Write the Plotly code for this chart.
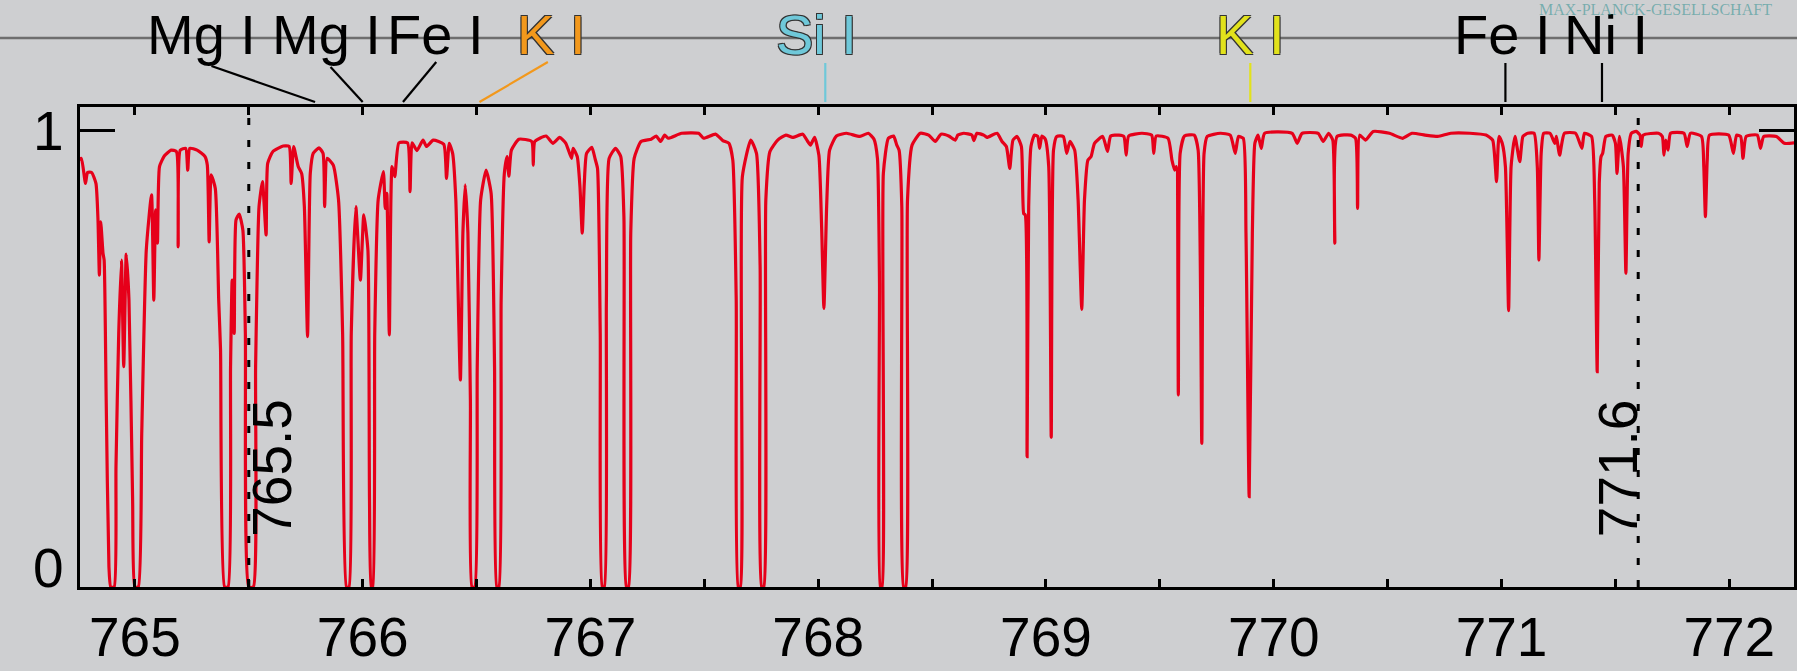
import plotly.graph_objects as go

# Normalised solar spectrum around the K I / O2 A-band region
wavelength_nm = [
    764.732, 764.742, 764.753, 764.765, 764.783, 764.792, 764.810, 764.829, 764.838, 764.844,
    764.850, 764.860, 764.865, 764.874, 764.886, 764.894, 764.909, 764.917, 764.929, 764.941,
    764.951, 764.962, 764.974, 764.990, 765.000, 765.015, 765.030, 765.050, 765.073, 765.083,
    765.091, 765.099, 765.108, 765.129, 765.159, 765.182, 765.190, 765.199, 765.223, 765.232,
    765.241, 765.273, 765.308, 765.318, 765.326, 765.335, 765.353, 765.368, 765.376, 765.394,
    765.409, 765.420, 765.427, 765.436, 765.444, 765.458, 765.474, 765.485, 765.500, 765.520,
    765.530, 765.545, 765.560, 765.576, 765.583, 765.606, 765.651, 765.677, 765.686, 765.697,
    765.717, 765.732, 765.744, 765.758, 765.770, 765.783, 765.808, 765.826, 765.833, 765.844,
    765.871, 765.894, 765.912, 765.929, 765.940, 765.950, 765.970, 765.990, 766.005, 766.023,
    766.030, 766.038, 766.044, 766.053, 766.068, 766.091, 766.099, 766.106, 766.117, 766.129,
    766.141, 766.159, 766.197, 766.208, 766.217, 766.238, 766.265, 766.280, 766.310, 766.356,
    766.368, 766.380, 766.395, 766.409, 766.429, 766.440, 766.450, 766.462, 766.473, 766.480,
    766.492, 766.503, 766.518, 766.542, 766.564, 766.579, 766.589, 766.598, 766.608, 766.622,
    766.634, 766.642, 766.653, 766.686, 766.742, 766.749, 766.756, 766.805, 766.835, 766.865,
    766.892, 766.917, 766.924, 766.942, 766.954, 766.964, 766.973, 766.983, 767.006, 767.021,
    767.031, 767.043, 767.052, 767.061, 767.070, 767.082, 767.110, 767.133, 767.147, 767.158,
    767.167, 767.177, 767.192, 767.222, 767.267, 767.289, 767.308, 767.326, 767.341, 767.400,
    767.475, 767.497, 767.549, 767.581, 767.608, 767.625, 767.640, 767.649, 767.658, 767.667,
    767.704, 767.729, 767.745, 767.752, 767.761, 767.770, 767.788, 767.822, 767.858, 767.888,
    767.932, 767.954, 767.966, 767.984, 768.003, 768.015, 768.025, 768.037, 768.050, 768.080,
    768.124, 768.183, 768.220, 768.245, 768.260, 768.269, 768.273, 768.280, 768.286, 768.308,
    768.331, 768.345, 768.355, 768.367, 768.375, 768.384, 768.392, 768.412, 768.448, 768.485,
    768.514, 768.539, 768.573, 768.602, 768.613, 768.639, 768.675, 768.683, 768.697, 768.727,
    768.741, 768.785, 768.807, 768.826, 768.841, 768.855, 768.873, 768.892, 768.902, 768.909,
    768.917, 768.924, 768.934, 768.949, 768.964, 768.972, 768.982, 768.997, 769.012, 769.023,
    769.033, 769.047, 769.076, 769.091, 769.105, 769.126, 769.141, 769.157, 769.169, 769.184,
    769.198, 769.213, 769.249, 769.270, 769.284, 769.320, 769.342, 769.352, 769.363, 769.421,
    769.464, 769.473, 769.484, 769.536, 769.553, 769.565, 769.572, 769.581, 769.589, 769.608,
    769.651, 769.668, 769.684, 769.694, 769.708, 769.766, 769.809, 769.831, 769.845, 769.866,
    769.878, 769.892, 769.906, 769.917, 769.931, 769.945, 769.960, 770.081, 770.103, 770.124,
    770.195, 770.217, 770.241, 770.259, 770.268, 770.278, 770.338, 770.359, 770.368, 770.377,
    770.403, 770.437, 770.508, 770.565, 770.607, 770.664, 770.720, 770.777, 770.861, 770.932,
    770.961, 770.978, 770.989, 771.003, 771.017, 771.031, 771.042, 771.059, 771.080, 771.094,
    771.115, 771.143, 771.157, 771.164, 771.174, 771.185, 771.213, 771.234, 771.241, 771.255,
    771.276, 771.325, 771.353, 771.364, 771.395, 771.409, 771.420, 771.429, 771.437, 771.444,
    771.458, 771.486, 771.500, 771.507, 771.518, 771.535, 771.546, 771.556, 771.570, 771.591,
    771.608, 771.613, 771.622, 771.689, 771.706, 771.713, 771.721, 771.731, 771.742, 771.801,
    771.815, 771.829, 771.878, 771.888, 771.895, 771.903, 771.913, 771.997, 772.018, 772.032,
    772.050, 772.060, 772.074, 772.123, 772.137, 772.151, 772.207, 772.242, 772.300,
]

intensity = [
    0.940, 0.904, 0.936, 0.940, 0.885, 0.909, 0.909, 0.885, 0.805, 0.684,
    0.801, 0.732, 0.717, 0.410, 0.045, 0.000, 0.000, 0.264, 0.556, 0.717,
    0.483, 0.730, 0.629, 0.191, 0.000, 0.000, 0.336, 0.739, 0.860, 0.629,
    0.827, 0.754, 0.922, 0.945, 0.958, 0.955, 0.746, 0.958, 0.962, 0.914,
    0.962, 0.958, 0.944, 0.925, 0.757, 0.904, 0.874, 0.629, 0.520, 0.000,
    0.000, 0.483, 0.673, 0.556, 0.805, 0.818, 0.783, 0.556, 0.000, 0.000,
    0.483, 0.834, 0.889, 0.772, 0.929, 0.955, 0.967, 0.966, 0.885, 0.966,
    0.922, 0.907, 0.834, 0.549, 0.907, 0.951, 0.963, 0.951, 0.834, 0.940,
    0.925, 0.849, 0.556, 0.000, 0.000, 0.556, 0.834, 0.673, 0.816, 0.739,
    0.191, 0.000, 0.000, 0.556, 0.849, 0.911, 0.830, 0.863, 0.553, 0.922,
    0.900, 0.974, 0.974, 0.867, 0.974, 0.957, 0.980, 0.966, 0.980, 0.971,
    0.896, 0.973, 0.951, 0.849, 0.454, 0.776, 0.882, 0.776, 0.410, 0.000,
    0.000, 0.483, 0.849, 0.914, 0.863, 0.483, 0.000, 0.000, 0.629, 0.907,
    0.944, 0.901, 0.958, 0.982, 0.977, 0.925, 0.977, 0.989, 0.973, 0.986,
    0.973, 0.940, 0.962, 0.944, 0.878, 0.776, 0.885, 0.951, 0.964, 0.938,
    0.918, 0.556, 0.000, 0.000, 0.629, 0.940, 0.962, 0.944, 0.812, 0.000,
    0.000, 0.776, 0.940, 0.977, 0.982, 0.989, 0.977, 0.991, 0.984, 0.995,
    0.995, 0.984, 0.993, 0.979, 0.973, 0.936, 0.629, 0.000, 0.000, 0.900,
    0.980, 0.951, 0.702, 0.000, 0.000, 0.849, 0.955, 0.980, 0.991, 0.986,
    0.993, 0.977, 0.969, 0.986, 0.947, 0.790, 0.611, 0.834, 0.958, 0.989,
    0.995, 0.988, 0.995, 0.982, 0.940, 0.666, 0.000, 0.000, 0.907, 0.984,
    0.989, 0.969, 0.958, 0.834, 0.000, 0.000, 0.849, 0.969, 0.995, 0.991,
    0.977, 0.993, 0.989, 0.980, 0.991, 0.995, 0.991, 0.979, 0.995, 0.991,
    0.986, 0.995, 0.977, 0.966, 0.918, 0.980, 0.988, 0.966, 0.819, 0.816,
    0.286, 0.834, 0.966, 0.991, 0.988, 0.962, 0.989, 0.982, 0.922, 0.328,
    0.958, 0.988, 0.988, 0.951, 0.977, 0.958, 0.849, 0.609, 0.849, 0.936,
    0.944, 0.973, 0.988, 0.955, 0.989, 0.991, 0.988, 0.947, 0.989, 0.995,
    0.991, 0.951, 0.989, 0.984, 0.936, 0.914, 0.922, 0.421, 0.951, 0.989,
    0.991, 0.958, 0.315, 0.951, 0.988, 0.995, 0.991, 0.951, 0.988, 0.984,
    0.776, 0.198, 0.776, 0.973, 0.991, 0.962, 0.995, 0.995, 0.973, 0.995,
    0.995, 0.977, 0.995, 0.980, 0.754, 0.988, 0.991, 0.984, 0.830, 0.991,
    0.980, 0.999, 0.995, 0.984, 0.995, 0.991, 0.988, 0.995, 0.995, 0.991,
    0.980, 0.889, 0.988, 0.973, 0.922, 0.606, 0.922, 0.988, 0.933, 0.988,
    0.995, 0.995, 0.922, 0.717, 0.951, 0.995, 0.995, 0.973, 0.988, 0.947,
    0.995, 0.995, 0.962, 0.995, 0.988, 0.849, 0.472, 0.885, 0.944, 0.951,
    0.988, 0.991, 0.973, 0.907, 0.988, 0.922, 0.688, 0.951, 0.995, 0.999,
    0.991, 0.966, 0.991, 0.995, 0.988, 0.947, 0.980, 0.958, 0.995, 0.995,
    0.966, 0.995, 0.988, 0.922, 0.812, 0.936, 0.991, 0.991, 0.951, 0.991,
    0.988, 0.940, 0.988, 0.991, 0.962, 0.988, 0.988, 0.973, 0.975,
]

# Line identifications along the top edge
line_names = ["Mg I", "Mg I", "Fe I", "K I", "Si I", "K I", "Fe I", "Ni I"]
line_wavelength_nm = [765.791, 766.000, 766.177, 766.513, 768.031, 769.897, 771.017, 771.441]
name_wavelength_nm = [765.293, 765.839, 766.316, 766.828, 767.993, 769.897, 771.000, 771.460]
leader_top_nm = [765.336, 765.859, 766.323, 766.813, 768.031, 769.897, 771.017, 771.441]
line_colors = ["black", "black", "black", "#f2981c", "#6fc8d9", "#e2e21c", "black", "black"]

# Marked reference wavelengths
reference_nm = [765.5, 771.6]
reference_labels = ["765.5", "771.6"]

# Axis ticks
x_tick_values = [765.0, 765.5, 766.0, 766.5, 767.0, 767.5, 768.0, 768.5, 769.0,
                 769.5, 770.0, 770.5, 771.0, 771.5, 772.0]
x_tick_labels = ["765", "", "766", "", "767", "", "768", "", "769",
                 "", "770", "", "771", "", "772"]
y_tick_values = [0, 1]
y_tick_labels = ["0", "1"]

BG = "#cecfd1"
FONT = "Liberation Sans"
OUTLINE = "1px 1px 0 #333, -1px -1px 0 #333, 1px -1px 0 #333, -1px 1px 0 #333"

fig = go.Figure()
fig.add_trace(go.Scatter(
    x=wavelength_nm, y=intensity, mode="lines",
    line=dict(color="#e6001a", width=3.2, shape="spline", smoothing=0.5),
    hoverinfo="skip", showlegend=False,
))

shapes = []
annotations = []

# horizontal rule across the top of the page
shapes.append(dict(type="line", xref="paper", yref="paper",
                   x0=-0.06, x1=1.02, y0=1.1438, y1=1.1438,
                   line=dict(color="#6e6e6e", width=2.5), layer="below"))

# dotted reference lines with rotated labels
label_shift = [23, -20]
for wl, txt, dx in zip(reference_nm, reference_labels, label_shift):
    shapes.append(dict(type="line", xref="x", yref="paper", x0=wl, x1=wl, y0=0, y1=1,
                       line=dict(color="black", width=3, dash="7px,15px")))
    annotations.append(dict(x=wl, y=0.261, xref="x", yref="y", text=txt,
                            showarrow=False, textangle=-90, xshift=dx,
                            xanchor="center", yanchor="middle",
                            font=dict(family=FONT, size=55, color="black")))

# line identifications and leader strokes
top_y = {0: 1.0854, 1: 1.0833, 2: 1.0938, 3: 1.0938}
for i, (name, wl, nwl, tw, col) in enumerate(zip(line_names, line_wavelength_nm,
                                                  name_wavelength_nm, leader_top_nm,
                                                  line_colors)):
    shapes.append(dict(type="line", xref="x", yref="paper",
                       x0=wl, x1=tw, y0=1.0104, y1=top_y.get(i, 1.0917),
                       line=dict(color=col, width=2.2)))
    fnt = dict(family=FONT, size=56, color=col)
    if col != "black":
        fnt["shadow"] = OUTLINE
    annotations.append(dict(x=nwl, y=1.1508, xref="x", yref="paper", text=name,
                            showarrow=False, xanchor="center", yanchor="middle",
                            font=fnt))

# y tick labels
for val, txt, dy in zip(y_tick_values, y_tick_labels, [19, 0]):
    annotations.append(dict(x=0, y=val, xref="paper", yref="y", text=txt,
                            showarrow=False, xanchor="right", yanchor="middle",
                            xshift=-14, yshift=dy,
                            font=dict(family=FONT, size=55, color="black")))

# institute banner, top right
annotations.append(dict(x=(1540 - 80) / 1717, y=(587 - 9) / 480, xref="paper", yref="paper",
                        text="MAX-PLANCK-GESELLSCHAFT", showarrow=False,
                        xanchor="left", yanchor="middle",
                        font=dict(family="Liberation Serif", size=16,
                                  color="rgba(60,150,150,0.6)")))

fig.update_layout(
    width=1797, height=671,
    margin=dict(l=80, r=0, t=107, b=84, pad=0),
    paper_bgcolor=BG, plot_bgcolor=BG,
    font=dict(family=FONT, size=55, color="black"),
    shapes=shapes, annotations=annotations,
    xaxis=dict(range=[764.759, 772.284], tickvals=x_tick_values, ticktext=x_tick_labels,
               ticks="inside", ticklen=8, tickwidth=3, tickcolor="black",
               showline=True, linewidth=3, linecolor="black", mirror="ticks",
               showgrid=False, zeroline=False, tickangle=0,
               tickfont=dict(family=FONT, size=55, color="black")),
    yaxis=dict(range=[0, 1.0526], tickvals=y_tick_values,
               ticks="inside", ticklen=35, tickwidth=3, tickcolor="black",
               showline=True, linewidth=3, linecolor="black", mirror="ticks",
               showgrid=False, zeroline=False, showticklabels=False),
)

fig.write_html("out.html")
